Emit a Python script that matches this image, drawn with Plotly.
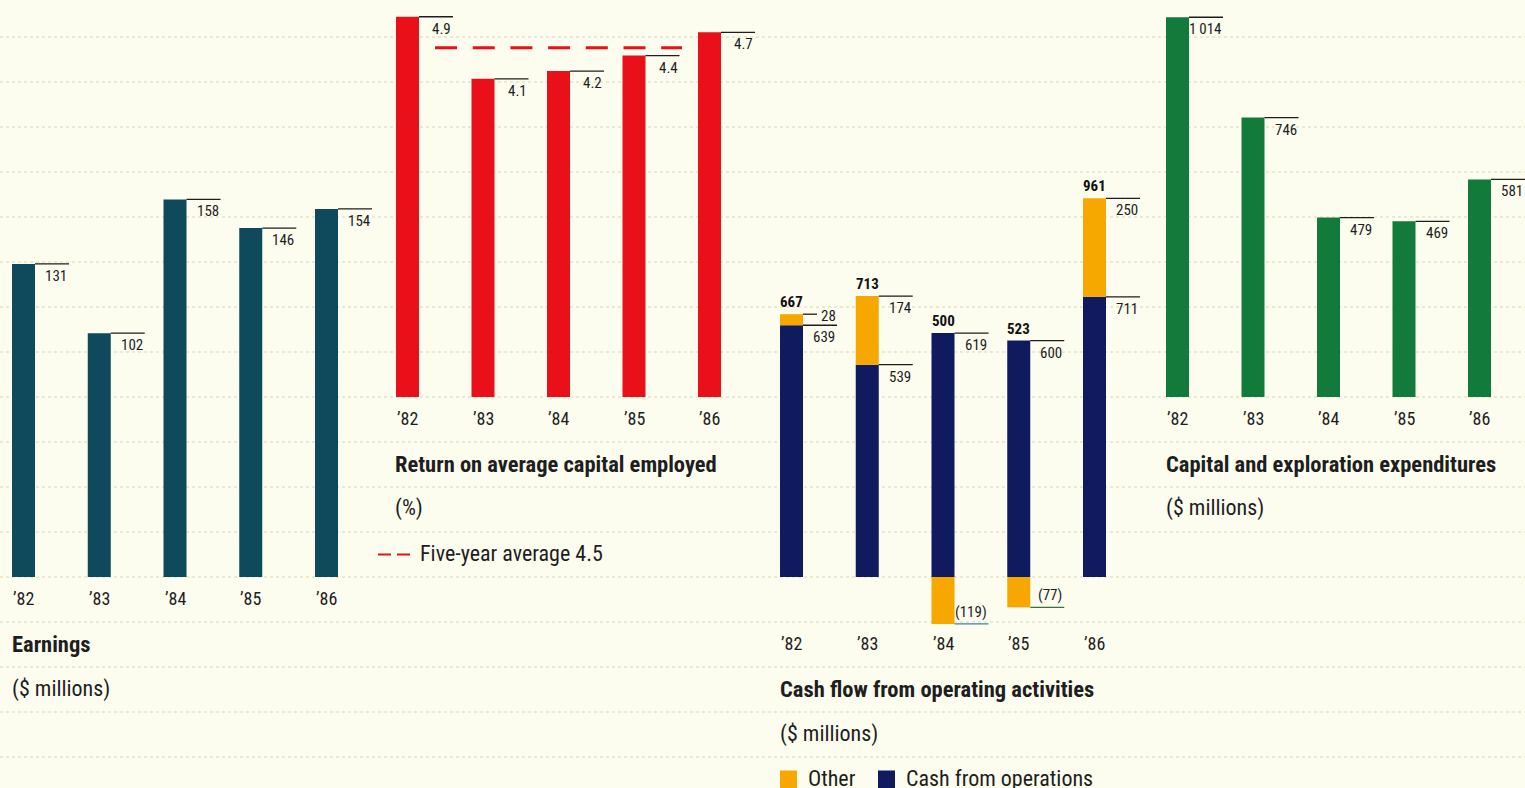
import plotly.graph_objects as go

# ---- data -------------------------------------------------------------
years = ["’82", "’83", "’84", "’85", "’86"]
earnings = [131, 102, 158, 146, 154]
roce = [4.9, 4.1, 4.2, 4.4, 4.7]
roce_avg = 4.5
cash_ops = [639, 539, 619, 600, 711]
cash_other = [28, 174, -119, -77, 250]
capex = [1014, 746, 479, 469, 581]

# ---- page geometry / style ---------------------------------------------
W, H = 1525, 788
BG = "#fcfcef"
GRID = "#d9d6b6"
INK = "#1e1e1e"
FONT = "Roboto Condensed, Liberation Sans"
C_EARN = "#0e4a5c"
C_ROCE = "#ea1019"
C_OPS = "#101a5e"
C_OTHER = "#f6a800"
C_CAPEX = "#127a3b"

ROW0, ROW = 37, 45          # ruled lines of the page
BAR_PX = 23                  # bar width in pixels
LEAD_PX = 34                 # leader line length in pixels
TITLE_SIZE = 22.5
TEXT_SIZE = 22
TICK_SIZE = 18
VALUE_SIZE = 15


def yp(px):
    return 1 - px / H


def xp(px):
    return px / W


def row_mid(k):
    return ROW0 + ROW * k + ROW / 2 - 1


# panel layout: first bar left edge, bar pitch, baseline, pixels per unit, x-domain
panels = {
    1: dict(left=12, pitch=75.75, base=577, scale=2.39, dom=(0, 380)),
    2: dict(left=396, pitch=75.5, base=397, scale=77.6, dom=(380, 760)),
    3: dict(left=780, pitch=75.75, base=577, scale=0.394, dom=(760, 1150)),
    4: dict(left=1166, pitch=75.5, base=397, scale=0.3745, dom=(1150, 1525)),
}

fig = go.Figure()
layout = dict(
    width=W, height=H, autosize=False,
    margin=dict(l=0, r=0, t=0, b=0),
    paper_bgcolor=BG, plot_bgcolor="rgba(0,0,0,0)",
    showlegend=False, barmode="relative",
    font=dict(family=FONT, color=INK),
)
shapes, annotations = [], []

for n, p in panels.items():
    c0 = p["left"] + BAR_PX / 2
    sp = p["pitch"]
    d0, d1 = p["dom"]
    sfx = "" if n == 1 else str(n)
    layout["xaxis" + sfx] = dict(
        domain=[xp(d0), xp(d1)], range=[(d0 - c0) / sp, (d1 - c0) / sp],
        visible=False, fixedrange=True, anchor="y" + sfx,
    )
    layout["yaxis" + sfx] = dict(
        domain=[0, 1], range=[-(H - p["base"]) / p["scale"], p["base"] / p["scale"]],
        visible=False, fixedrange=True, anchor="x" + sfx,
    )
    p["ax"] = ("x" + sfx, "y" + sfx)
    p["hw"] = BAR_PX / 2 / sp
    p["lead"] = LEAD_PX / sp
    p["bw"] = BAR_PX / sp

# ruled background lines
for k in range(17):
    shapes.append(dict(type="line", xref="paper", yref="paper", x0=0, x1=1,
                       y0=yp(ROW0 + ROW * k), y1=yp(ROW0 + ROW * k), layer="below",
                       line=dict(color=GRID, width=1, dash="dot")))

xs = list(range(len(years)))


def leader(p, i, v, color=INK):
    xa, ya = p["ax"]
    shapes.append(dict(type="line", xref=xa, yref=ya, x0=i + p["hw"], x1=i + p["hw"] + p["lead"],
                       y0=v, y1=v, line=dict(color=color, width=1.3)))


def value_label(p, i, v, text, above=False, size=VALUE_SIZE):
    xa, ya = p["ax"]
    annotations.append(dict(xref=xa, yref=ya, x=i + p["hw"] + p["lead"], y=v, text=text,
                            showarrow=False, xanchor="right",
                            yanchor="bottom" if above else "top",
                            yshift=1 if above else -1,
                            font=dict(size=size, color=INK)))


def simple_panel(n, values, color, fmt):
    p = panels[n]
    xa, ya = p["ax"]
    fig.add_trace(go.Bar(x=xs, y=values, width=p["bw"], marker=dict(color=color, line=dict(width=0)),
                         xaxis=xa, yaxis=ya))
    for i, v in enumerate(values):
        leader(p, i, v)
        value_label(p, i, v, fmt(v))


def year_ticks(n, row_px):
    p = panels[n]
    xa, _ = p["ax"]
    for i, t in enumerate(years):
        annotations.append(dict(xref=xa, yref="paper", x=i, y=yp(row_px), text=t, showarrow=False,
                                xanchor="center", yanchor="middle",
                                font=dict(size=TICK_SIZE, color=INK)))


def caption(x_px, row_px, text, bold=False):
    annotations.append(dict(xref="paper", yref="paper", x=xp(x_px), y=yp(row_px),
                            text=f"<b>{text}</b>" if bold else text, showarrow=False,
                            xanchor="left", yanchor="middle",
                            font=dict(size=TITLE_SIZE if bold else TEXT_SIZE, color=INK)))


# ---- Earnings -------------------------------------------------------------
simple_panel(1, earnings, C_EARN, lambda v: f"{v}")
year_ticks(1, row_mid(12))
caption(10, row_mid(13), "Earnings", bold=True)
caption(10, row_mid(14), "($ millions)")

# ---- Return on average capital employed ----------------------------------
simple_panel(2, roce, C_ROCE, lambda v: f"{v:.1f}")
p2 = panels[2]
shapes.append(dict(type="line", xref=p2["ax"][0], yref=p2["ax"][1],
                   x0=0 + p2["hw"] + 16 / p2["pitch"], x1=4 - p2["hw"] - 16 / p2["pitch"],
                   y0=roce_avg, y1=roce_avg,
                   line=dict(color=C_ROCE, width=3, dash="22px,15.7px")))
year_ticks(2, row_mid(8))
caption(393, row_mid(9), "Return on average capital employed", bold=True)
caption(393, row_mid(10), "(%)")
shapes.append(dict(type="line", xref="paper", yref="paper", x0=xp(378), x1=xp(412),
                   y0=yp(row_mid(11) + 1), y1=yp(row_mid(11) + 1),
                   line=dict(color=C_ROCE, width=2, dash="13px,6px")))
caption(418, row_mid(11), f"Five-year average {roce_avg}")

# ---- Cash flow from operating activities ---------------------------------
p3 = panels[3]
xa3, ya3 = p3["ax"]
fig.add_trace(go.Bar(x=xs, y=cash_ops, width=p3["bw"], marker=dict(color=C_OPS, line=dict(width=0)),
                     xaxis=xa3, yaxis=ya3))
fig.add_trace(go.Bar(x=xs, y=cash_other, width=p3["bw"], marker=dict(color=C_OTHER, line=dict(width=0)),
                     xaxis=xa3, yaxis=ya3))
neg_line_colors = ["#3a86a6", "#3f6f3a"]
neg_k = 0
for i in xs:
    ops, oth = cash_ops[i], cash_other[i]
    top = ops + max(oth, 0)
    total = ops + oth
    annotations.append(dict(xref=xa3, yref=ya3, x=i, y=top, text=f"<b>{total}</b>", showarrow=False,
                            xanchor="center", yanchor="bottom", yshift=1,
                            font=dict(size=VALUE_SIZE, color="#111111")))
    if oth > 0:
        if oth * p3["scale"] < 20:
            shapes.append(dict(type="line", xref=xa3, yref=ya3, x0=i + p3["hw"],
                               x1=i + p3["hw"] + 14 / p3["pitch"], y0=top, y1=top,
                               line=dict(color=INK, width=1.3)))
            annotations.append(dict(xref=xa3, yref=ya3, x=i + p3["hw"] + 16 / p3["pitch"], y=top,
                                    text=f"{oth}", showarrow=False, xanchor="left", yanchor="middle",
                                    yshift=-2, font=dict(size=VALUE_SIZE, color=INK)))
        else:
            leader(p3, i, top)
            value_label(p3, i, top, f"{oth}")
    leader(p3, i, ops)
    value_label(p3, i, ops, f"{ops}")
    if oth < 0:
        leader(p3, i, oth, color=neg_line_colors[neg_k % 2])
        neg_k += 1
        value_label(p3, i, oth, f"({-oth})", above=True)
year_ticks(3, row_mid(13))
caption(778, row_mid(14), "Cash flow from operating activities", bold=True)
caption(778, row_mid(15), "($ millions)")
leg_y = row_mid(16)
for x0, color, label in [(780, C_OTHER, "Other"), (878, C_OPS, "Cash from operations")]:
    shapes.append(dict(type="rect", xref="paper", yref="paper", x0=xp(x0), x1=xp(x0 + 17),
                       y0=yp(leg_y + 10), y1=yp(leg_y - 8), fillcolor=color, line=dict(width=0)))
    caption(x0 + 26, leg_y, label)

# ---- Capital and exploration expenditures --------------------------------
simple_panel(4, capex, C_CAPEX, lambda v: f"{v:,}".replace(",", "\u2009"))
year_ticks(4, row_mid(8))
caption(1164, row_mid(9), "Capital and exploration expenditures", bold=True)
caption(1164, row_mid(10), "($ millions)")

layout["shapes"] = shapes
layout["annotations"] = annotations
fig.update_layout(**layout)
fig.write_html("out.html", config={"displayModeBar": False})
